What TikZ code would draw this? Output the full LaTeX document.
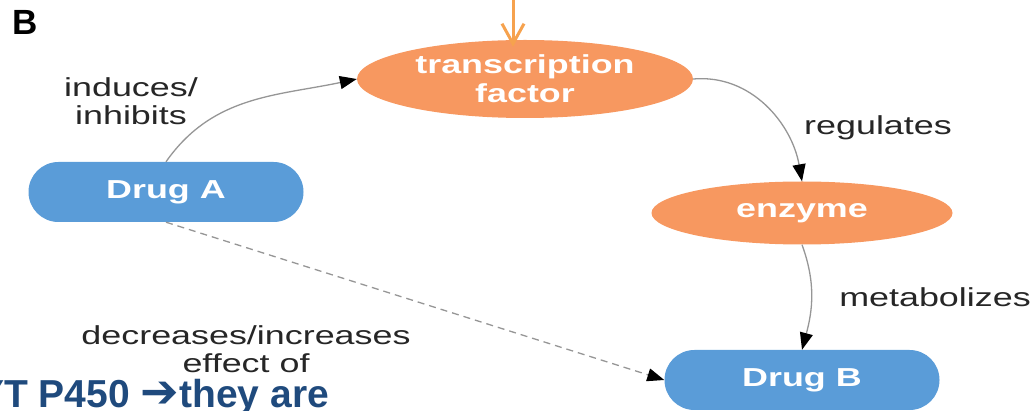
\documentclass[tikz,border=0pt]{standalone}
\usepackage{fontspec}
\setmainfont{Liberation Sans}[FakeStretch=1.38]
\newfontfamily\slidefont{Liberation Sans}
\newfontfamily\symfont{DejaVu Sans}
\usetikzlibrary{arrows.meta,shapes.geometric,positioning}
\definecolor{pillblue}{RGB}{90,156,216}
\definecolor{ovalorange}{RGB}{247,152,96}
\definecolor{feedorange}{RGB}{246,162,78}
\definecolor{slideblue}{RGB}{31,74,125}
\definecolor{edgegray}{RGB}{150,150,150}

\begin{document}
\begin{tikzpicture}[x=1pt, y=1pt,
    pill/.style={rounded corners=29.9pt, fill=pillblue, text=white,
                 minimum width=275pt, minimum height=60pt, inner sep=0pt,
                 font=\fontsize{26}{29}\selectfont\bfseries},
    oval/.style={ellipse, fill=ovalorange, text=white, inner sep=0pt, align=center,
                 font=\fontsize{26}{29}\selectfont\bfseries},
    lbl/.style={align=center, text=black!85, inner sep=0pt,
                font=\fontsize{26}{28}\selectfont},
    conn/.style={-{Triangle[length=17pt,width=13pt,color=black]}, draw=edgegray, line width=1.3pt},
    feed/.style={-{Straight Barb[length=20pt,width=22pt]}, draw=feedorange, line width=3pt}]

    \useasboundingbox (0,0) rectangle (1034,-411);
    \clip (0,0) rectangle (1034,-411);

    % panel letter
    \node[font=\fontsize{35}{35}\selectfont\slidefont\bfseries, inner sep=0pt] (panel) at (25,-22) {B};

    % nodes
    \node[pill] (drugA) at (166,-192) {Drug A};
    \node[oval, minimum width=336pt, minimum height=78pt] (tf) at (525,-79) {transcription\\factor};
    \node[oval, minimum width=301pt, minimum height=63pt] (enz) at (802,-213) {enzyme};
    \node[pill] (drugB) at (802,-380) {Drug B};

    % edge labels
    \node[lbl] (lind) at (131,-101) {induces/\\inhibits};
    \node[lbl] (lreg) at (878,-128) {regulates};
    \node[lbl] (lmet) at (935,-297) {metabolizes};
    \node[lbl] (ldec) at (246,-349) {decreases/increases\\effect of};

    % connectors
    \draw[conn] (drugA.north) to[out=55, in=192] (tf.west);
    \draw[conn] (tf.east) to[out=5, in=100] (enz.north);
    \draw[conn] (enz.south) to[out=-70, in=75] (drugB.north);
    \draw[conn, dash pattern=on 7pt off 5pt] (drugA.south) -- (drugB.west);

    % incoming arrow from above
    \coordinate (tfin) at (513,0);
    \draw[feed, shorten >=-7pt] (tfin) -- (tfin |- tf.north);

    % slide text cut off at the bottom
    \node[anchor=base west, inner sep=0pt, text=slideblue,
          font=\fontsize{39}{40}\selectfont\slidefont\bfseries] (note) at (-22,-408)
          {YT P450 {\symfont\fontsize{46}{46}\selectfont ➔}they are};
\end{tikzpicture}
\end{document}
